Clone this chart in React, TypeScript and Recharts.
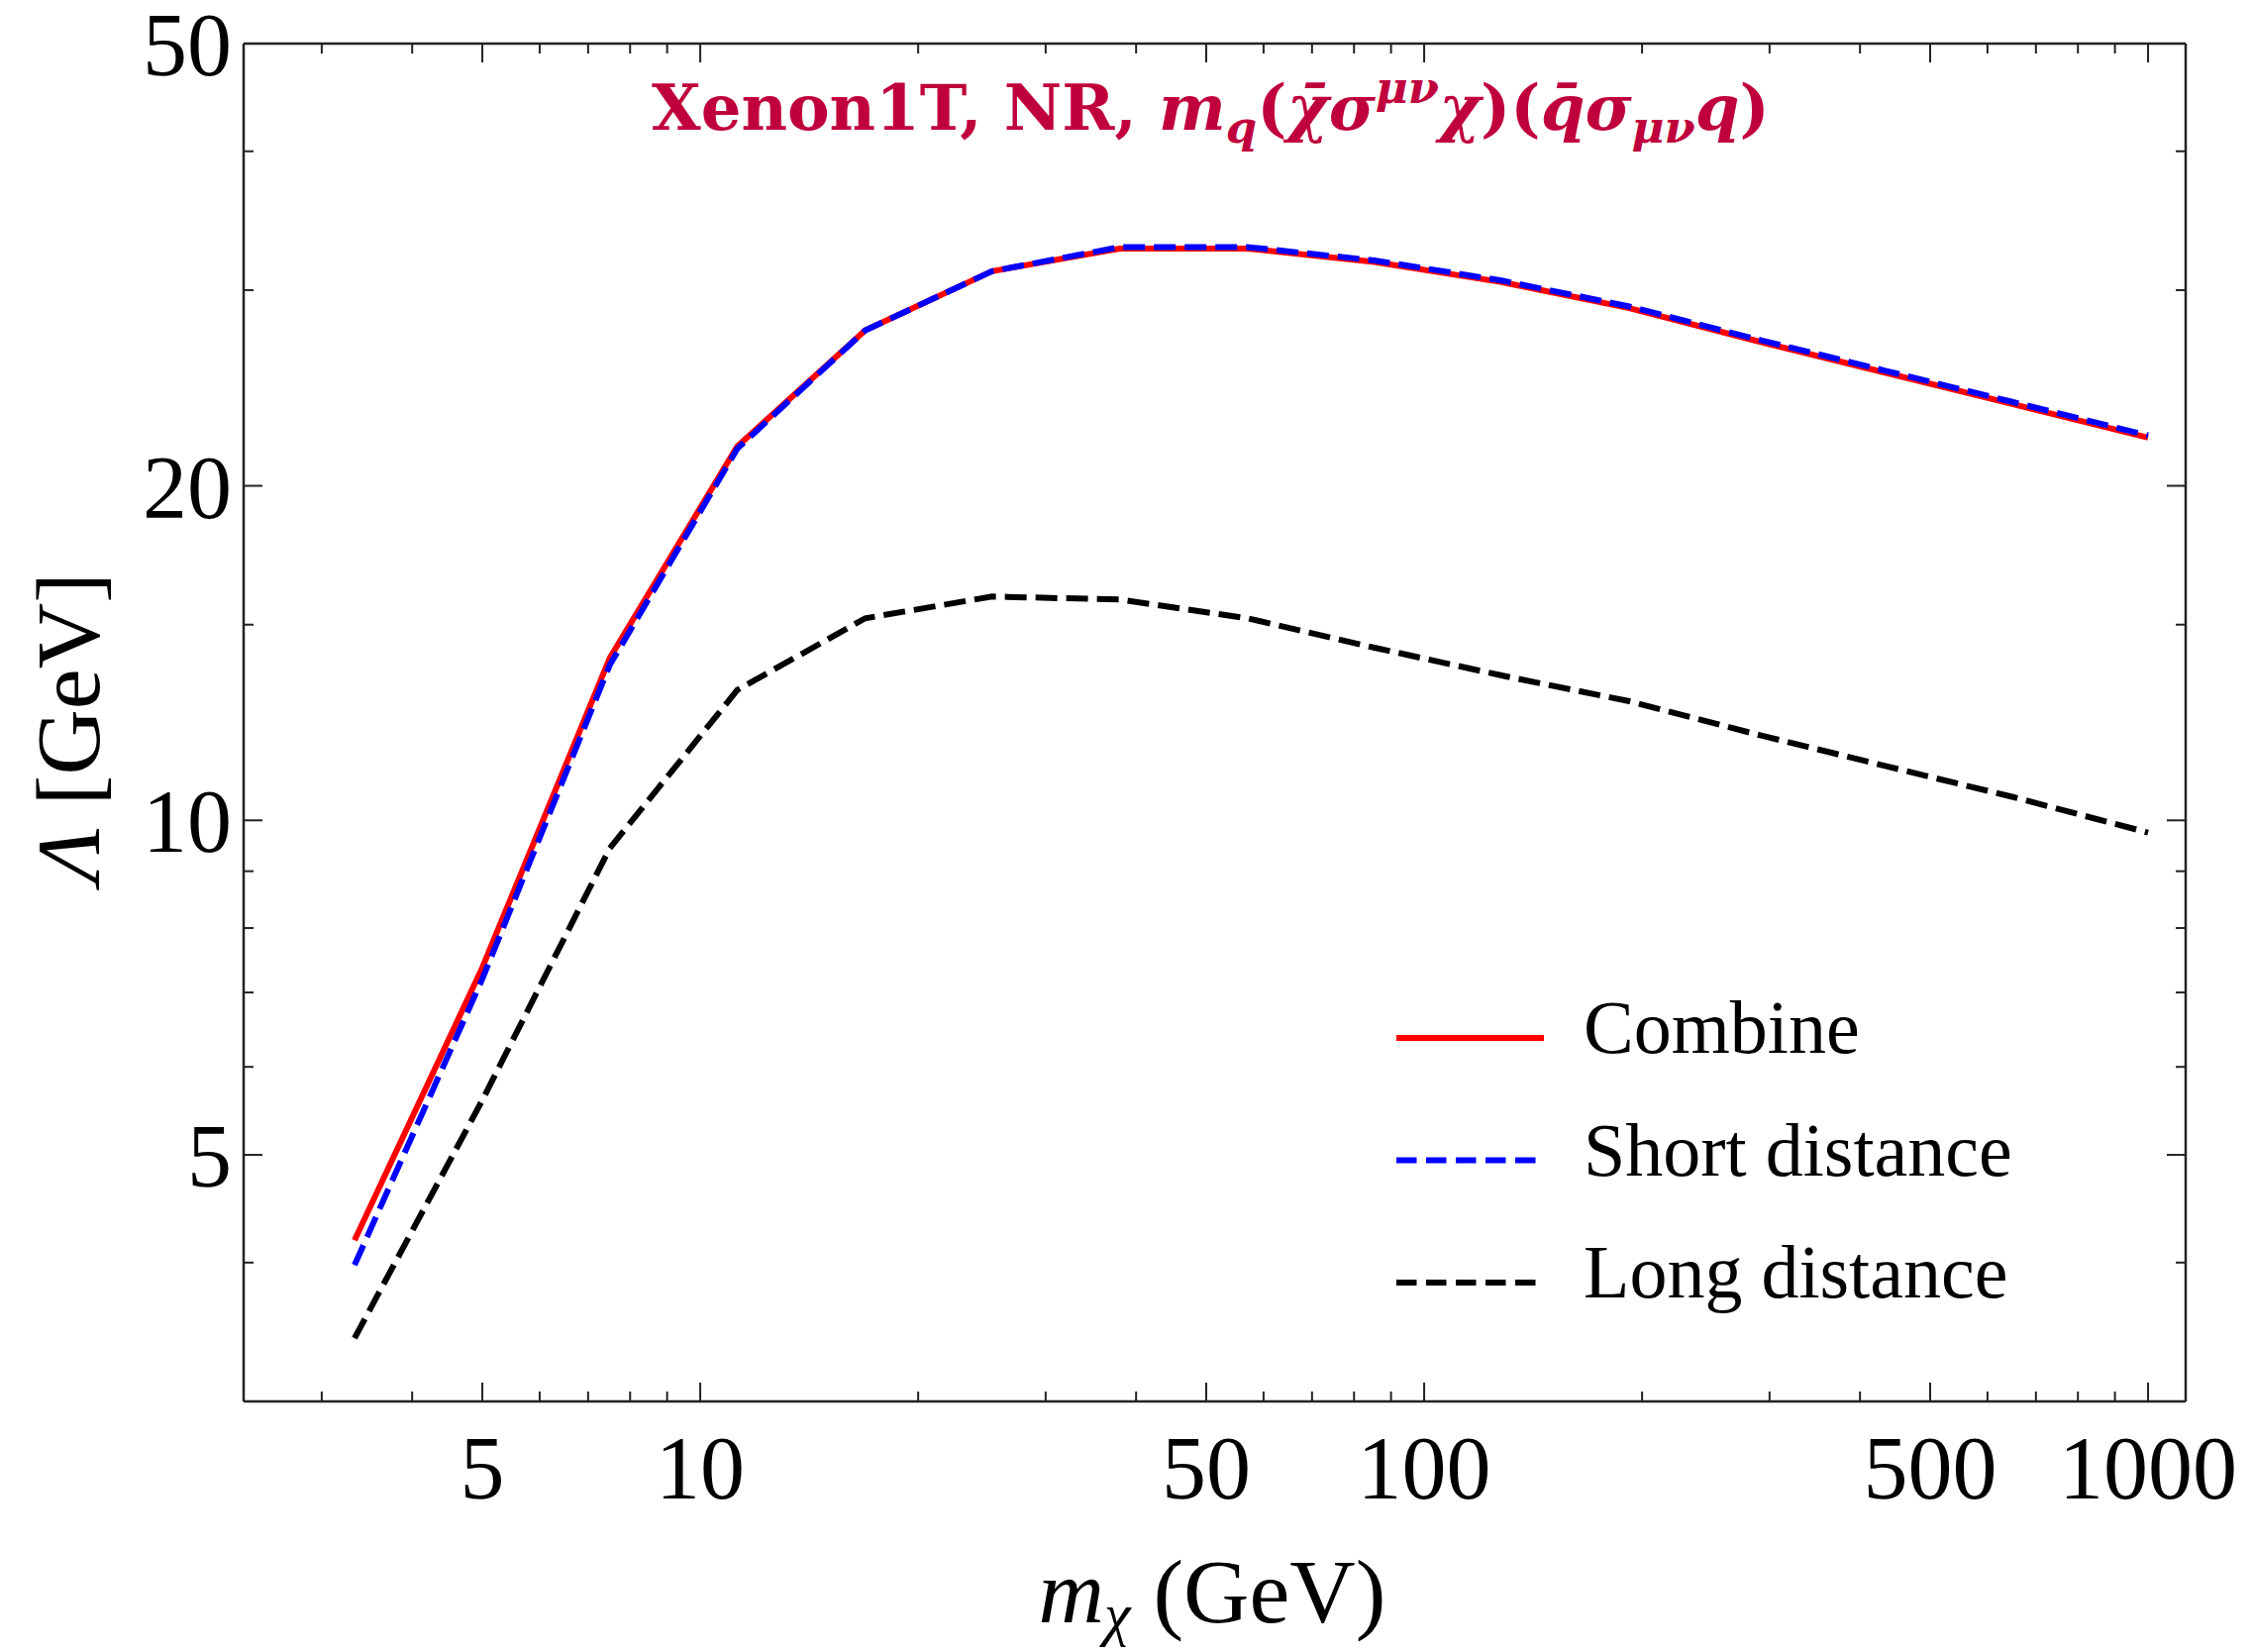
import { LineChart, Line, XAxis, YAxis, Legend } from 'recharts';

// dark matter mass grid (GeV)
const MASSES = [3.33, 5, 7.5, 11.25, 16.9, 25.3, 38, 57, 85.4, 128, 192, 288, 432, 649, 1000];
const COMBINE = [4.19, 7.37, 14.0, 21.7, 27.6, 31.2, 32.7, 32.7, 31.8, 30.5, 28.9, 27.0, 25.3, 23.7, 22.1];
const SHORT_DISTANCE = [3.98, 7.2, 13.8, 21.6, 27.6, 31.2, 32.8, 32.8, 31.9, 30.6, 29.0, 27.1, 25.4, 23.8, 22.2];
const LONG_DISTANCE = [3.42, 5.6, 9.44, 13.1, 15.2, 15.9, 15.8, 15.2, 14.3, 13.5, 12.8, 11.95, 11.2, 10.5, 9.75];

const X_TICKS = [3, 4, 5, 6, 7, 8, 9, 10, 20, 30, 40, 50, 60, 70, 80, 90, 100, 200, 300, 400, 500, 600, 700, 800, 900, 1000];
const X_LABELS = [5, 10, 50, 100, 500, 1000];
const Y_TICKS = [4, 5, 6, 7, 8, 9, 10, 15, 20, 30, 40, 50];
const Y_LABELS = [5, 10, 20, 50];

const X_DOMAIN = [2.34, 1127];
const Y_DOMAIN = [3, 50];

const SERIES = [
  { key: 'combine', name: 'Combine', color: '#ff0000', dash: undefined },
  { key: 'short', name: 'Short distance', color: '#0000ff', dash: '22 9' },
  { key: 'long', name: 'Long distance', color: '#000000', dash: '22 9' },
];

const data = MASSES.map((m, i) => ({
  m,
  combine: COMBINE[i],
  short: SHORT_DISTANCE[i],
  long: LONG_DISTANCE[i],
}));

const FONT = '"Liberation Serif", "DejaVu Serif", serif';
const TITLE_FONT = '"DejaVu Serif", "Liberation Serif", serif';
const FRAME = '#222';
const MAJOR = 19;
const MINOR = 10;

const BottomTick = (props: any) => {
  const { x, y, payload } = props;
  const major = X_LABELS.includes(payload.value);
  return (
    <g>
      <line x1={x} y1={y} x2={x} y2={y - (major ? MAJOR : MINOR)} stroke={FRAME} strokeWidth={2} />
      {major && (
        <text x={x} y={y + 98} textAnchor="middle" fontSize={90} fontFamily={FONT} fill="#000">
          {payload.value}
        </text>
      )}
    </g>
  );
};

const TopTick = (props: any) => {
  const { x, y, payload } = props;
  const major = X_LABELS.includes(payload.value);
  return <line x1={x} y1={y} x2={x} y2={y + (major ? MAJOR : MINOR)} stroke={FRAME} strokeWidth={2} />;
};

const LeftTick = (props: any) => {
  const { x, y, payload } = props;
  const major = Y_LABELS.includes(payload.value);
  return (
    <g>
      <line x1={x} y1={y} x2={x + (major ? MAJOR : MINOR)} y2={y} stroke={FRAME} strokeWidth={2} />
      {major && (
        <text x={x - 12} y={y + 32} textAnchor="end" fontSize={90} fontFamily={FONT} fill="#000">
          {payload.value}
        </text>
      )}
    </g>
  );
};

const RightTick = (props: any) => {
  const { x, y, payload } = props;
  const major = Y_LABELS.includes(payload.value);
  return <line x1={x} y1={y} x2={x - (major ? MAJOR : MINOR)} y2={y} stroke={FRAME} strokeWidth={2} />;
};

const renderLegend = () => (
  <svg width={720} height={400}>
    {SERIES.map((s, i) => {
      const cy = 88 + i * 123.5;
      return (
        <g key={s.key}>
          <line x1={10} y1={cy} x2={s.dash ? 151 : 159} y2={cy} stroke={s.color} strokeWidth={6}
            strokeDasharray={s.dash ? '20.5 9.5' : undefined} />
          <text x={199} y={cy + 15} fontSize={76} fontFamily={FONT} fill="#000">{s.name}</text>
        </g>
      );
    })}
  </svg>
);

export default function App() {
  return (
    <div style={{ position: 'absolute', left: 0, top: 0, width: 2275, height: 1668, background: '#fff' }}>
      <LineChart width={2275} height={1668} data={data} margin={{ top: 34, right: 58, bottom: 153, left: 146 }}>
        <XAxis xAxisId="bottom" dataKey="m" type="number" scale="log" domain={X_DOMAIN} allowDataOverflow
          ticks={X_TICKS} interval={0} tick={BottomTick} tickSize={0} tickMargin={0} tickLine={false}
          axisLine={{ stroke: FRAME, strokeWidth: 2.5 }} height={100} />
        <XAxis xAxisId="top" orientation="top" dataKey="m" type="number" scale="log" domain={X_DOMAIN} allowDataOverflow
          ticks={X_TICKS} interval={0} tick={TopTick} tickSize={0} tickMargin={0} tickLine={false}
          axisLine={{ stroke: FRAME, strokeWidth: 2.5 }} height={10} />
        <YAxis yAxisId="left" type="number" scale="log" domain={Y_DOMAIN} allowDataOverflow
          ticks={Y_TICKS} interval={0} tick={LeftTick} tickSize={0} tickMargin={0} tickLine={false}
          axisLine={{ stroke: FRAME, strokeWidth: 2.5 }} width={100} />
        <YAxis yAxisId="right" orientation="right" type="number" scale="log" domain={Y_DOMAIN} allowDataOverflow
          ticks={Y_TICKS} interval={0} tick={RightTick} tickSize={0} tickMargin={0} tickLine={false}
          axisLine={{ stroke: FRAME, strokeWidth: 2.5 }} width={10} />
        <Legend layout="vertical" align="center" verticalAlign="middle" content={renderLegend}
          wrapperStyle={{ left: 1400, top: 960, width: 720, height: 400 }} />
        {SERIES.map((s) => (
          <Line key={s.key} xAxisId="bottom" yAxisId="left" dataKey={s.key} name={s.name} type="linear"
            stroke={s.color} strokeWidth={6} strokeDasharray={s.dash} dot={false} activeDot={false}
            isAnimationActive={false} />
        ))}
      </LineChart>
      <svg width={2275} height={1668} style={{ position: 'absolute', left: 0, top: 0, pointerEvents: 'none' }}>
        <text x={658} y={131} fontSize={64} fontFamily={TITLE_FONT} fill="#c0003c" fontWeight="bold">
          <tspan>Xenon1T, NR, </tspan>
          <tspan fontStyle="italic">m</tspan>
          <tspan fontStyle="italic" fontSize={45} dy={13}>q</tspan>
          <tspan dy={-13}>(</tspan>
          <tspan fontStyle="italic">χ̄σ</tspan>
          <tspan fontStyle="italic" fontSize={45} dy={-27}>μν</tspan>
          <tspan fontStyle="italic" dy={27}>χ</tspan>
          <tspan>)(</tspan>
          <tspan fontStyle="italic">q̄σ</tspan>
          <tspan fontStyle="italic" fontSize={45} dy={13}>μν</tspan>
          <tspan fontStyle="italic" dy={-13}>q</tspan>
          <tspan>)</tspan>
        </text>
        <text x={1224} y={1638} textAnchor="middle" fontSize={92} fontFamily={FONT} fill="#000">
          <tspan fontStyle="italic">m</tspan>
          <tspan fontStyle="italic" fontSize={60} dy={12}>χ</tspan>
          <tspan dy={-12}> (GeV)</tspan>
        </text>
        <text x={100} y={735} transform="rotate(-90 100 735)" textAnchor="middle" fontSize={92} fontFamily={FONT} fill="#000">
          <tspan fontStyle="italic">Λ</tspan>
          <tspan> [GeV]</tspan>
        </text>
      </svg>
    </div>
  );
}
